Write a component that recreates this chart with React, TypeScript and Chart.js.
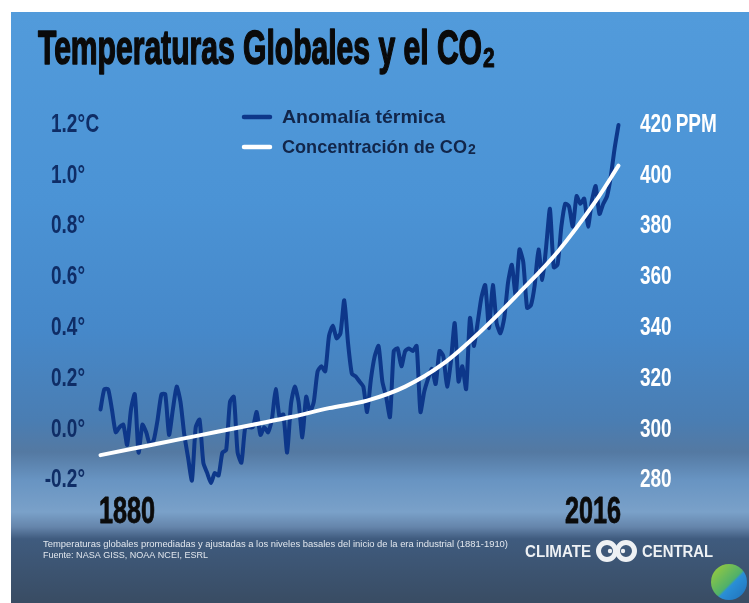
import React, { useEffect, useRef } from 'react';
import { Chart, registerables } from 'chart.js';

Chart.register(...registerables);

// ---- Data ----
const START_YEAR = 1880;
const END_YEAR = 2016;
const tempAnomaly = [
  0.07, 0.15, 0.15, 0.07, -0.02, 0.0, 0.01, -0.07, 0.07, 0.13,
  -0.1, 0.01, -0.02, -0.07, -0.05, 0.03, 0.13, 0.13, -0.03, 0.07,
  0.16, 0.1, -0.03, -0.12, -0.21, 0.0, 0.03, -0.14, -0.18, -0.22,
  -0.18, -0.19, -0.1, -0.09, 0.1, 0.12, -0.1, -0.14, 0.0, 0.0,
  0.0, 0.06, -0.03, 0.0, -0.02, 0.03, 0.15, 0.04, 0.05, -0.1,
  0.09, 0.16, 0.1, -0.04, 0.12, 0.06, 0.1, 0.22, 0.24, 0.22,
  0.36, 0.4, 0.35, 0.37, 0.5, 0.33, 0.21, 0.2, 0.18, 0.16,
  0.06, 0.19, 0.28, 0.32, 0.18, 0.12, 0.04, 0.3, 0.31, 0.24,
  0.3, 0.31, 0.3, 0.32, 0.06, 0.14, 0.19, 0.23, 0.17, 0.3,
  0.28, 0.16, 0.26, 0.41, 0.18, 0.24, 0.15, 0.43, 0.32, 0.41,
  0.51, 0.56, 0.39, 0.56, 0.41, 0.37, 0.43, 0.57, 0.64, 0.52,
  0.7, 0.65, 0.47, 0.48, 0.56, 0.7, 0.58, 0.71, 0.86, 0.63,
  0.64, 0.79, 0.88, 0.87, 0.79, 0.91, 0.88, 0.9, 0.79, 0.89,
  0.95, 0.84, 0.88, 0.91, 0.99, 1.1, 1.19,
];
const co2Years = [1880, 1890, 1900, 1910, 1920, 1930, 1940, 1950, 1960, 1970, 1980, 1990, 2000, 2010, 2016];
const co2Ppm = [289, 292, 295, 298, 301, 304, 307.5, 310.5, 316, 325, 338, 353, 369, 389, 403];

const tempTicks = [-0.2, 0.0, 0.2, 0.4, 0.6, 0.8, 1.0, 1.2];
const tempTickLabels = ['-0.2°', '0.0°', '0.2°', '0.4°', '0.6°', '0.8°', '1.0°', '1.2°'];
const tempUnit = 'C';
const co2Ticks = [280, 300, 320, 340, 360, 380, 400, 420];
const co2TickLabels = ['280', '300', '320', '340', '360', '380', '400', '420'];
const co2Unit = 'PPM';
const yearLabels = ['1880', '2016'];

const titleMain = 'Temperaturas Globales y el CO';
const titleSub = '2';
const legendTemp = 'Anomalía térmica';
const legendCo2 = 'Concentración de CO';
const footnote1 = 'Temperaturas globales promediadas y ajustadas a los niveles basales del inicio de la era industrial (1881-1910)';
const footnote2 = 'Fuente: NASA GISS, NOAA NCEI, ESRL';
const brandLeft = 'CLIMATE';
const brandRight = 'CENTRAL';

// ---- Styles ----
const W = 738;
const H = 591;
const FONT = '"Liberation Sans", Arial, sans-serif';
const TEMP_COLOR = '#0d378a';
const CO2_COLOR = '#ffffff';

function drawScaled(
  ctx: CanvasRenderingContext2D,
  text: string,
  x: number,
  y: number,
  font: string,
  color: string,
  opts: { sx?: number; width?: number; align?: 'left' | 'right' | 'center'; stroke?: number } = {}
) {
  ctx.save();
  ctx.font = font;
  ctx.fillStyle = color;
  ctx.textBaseline = 'alphabetic';
  ctx.textAlign = 'left';
  const raw = ctx.measureText(text).width;
  const sx = opts.width ? opts.width / raw : opts.sx ?? 1;
  const w = raw * sx;
  const align = opts.align ?? 'left';
  const left = align === 'left' ? x : align === 'right' ? x - w : x - w / 2;
  ctx.translate(left, y);
  ctx.scale(sx, 1);
  ctx.fillText(text, 0, 0);
  if (opts.stroke) {
    ctx.strokeStyle = color;
    ctx.lineWidth = opts.stroke;
    ctx.lineJoin = 'round';
    ctx.strokeText(text, 0, 0);
  }
  ctx.restore();
  return w;
}

const decorPlugin = {
  id: 'decor',
  beforeDraw(chart: any) {
    const ctx: CanvasRenderingContext2D = chart.ctx;
    const g = ctx.createLinearGradient(0, 0, 0, H);
    const stops: [number, string][] = [
      [0, '#529bdb'],
      [190, '#4b93d5'],
      [320, '#4688c9'],
      [410, '#4a7db2'],
      [440, '#5479a2'],
      [468, '#6894c2'],
      [500, '#7aa1c9'],
      [515, '#6585ab'],
      [527, '#3f5b7e'],
      [591, '#394c63'],
    ];
    stops.forEach(([p, c]) => g.addColorStop(p / H, c));
    ctx.save();
    ctx.fillStyle = g;
    ctx.fillRect(0, 0, W, H);
    ctx.restore();
  },
  afterDraw(chart: any) {
    const ctx: CanvasRenderingContext2D = chart.ctx;
    const xs = chart.scales.x;
    const yl = chart.scales.y;
    const yr = chart.scales.y2;

    // Title
    const tw = drawScaled(ctx, titleMain, 27, 51.5, `bold 48px ${FONT}`, '#0a0a0a', { width: 444, stroke: 1.6 });
    drawScaled(ctx, titleSub, 27 + tw + 1, 55, `bold 28px ${FONT}`, '#0a0a0a', { sx: 0.75, stroke: 1 });

    // Left ticks
    const tickFont = `bold 26px ${FONT}`;
    const capH = 26 * 0.716;
    tempTicks.forEach((v, i) => {
      const py = yl.getPixelForValue(v) + capH / 2;
      drawScaled(ctx, tempTickLabels[i], 74, py, tickFont, '#0f2d66', { sx: 0.73, align: 'right' });
      if (i === tempTicks.length - 1) {
        drawScaled(ctx, tempUnit, 74.5, py, tickFont, '#0f2d66', { sx: 0.73 });
      }
    });
    // Right ticks
    co2Ticks.forEach((v, i) => {
      const py = yr.getPixelForValue(v) + capH / 2;
      const w = drawScaled(ctx, co2TickLabels[i], 629, py, tickFont, '#ffffff', { sx: 0.73 });
      if (i === co2Ticks.length - 1) {
        drawScaled(ctx, co2Unit, 629 + w + 4, py, tickFont, '#ffffff', { sx: 0.73 });
      }
    });

    // Year labels
    const yearFont = `bold 36px ${FONT}`;
    drawScaled(ctx, yearLabels[0], xs.getPixelForValue(START_YEAR) - 1.5, 511, yearFont, '#0b0b0b', { sx: 0.7, stroke: 0.8 });
    drawScaled(ctx, yearLabels[1], xs.getPixelForValue(END_YEAR) + 2.5, 511, yearFont, '#0b0b0b', { sx: 0.7, align: 'right', stroke: 0.8 });

    // Legend
    ctx.save();
    ctx.lineCap = 'round';
    ctx.lineWidth = 4.5;
    ctx.strokeStyle = TEMP_COLOR;
    ctx.beginPath();
    ctx.moveTo(233, 105);
    ctx.lineTo(259, 105);
    ctx.stroke();
    ctx.strokeStyle = CO2_COLOR;
    ctx.beginPath();
    ctx.moveTo(233, 135);
    ctx.lineTo(259, 135);
    ctx.stroke();
    ctx.restore();
    const legFont = `bold 19px ${FONT}`;
    drawScaled(ctx, legendTemp, 271, 111, legFont, '#12264a', { width: 163 });
    const lw = drawScaled(ctx, legendCo2, 271, 141, legFont, '#12264a', { width: 185 });
    drawScaled(ctx, '2', 271 + lw + 1, 142, `bold 14px ${FONT}`, '#12264a');

    // Footnote
    drawScaled(ctx, footnote1, 32, 534.5, `9.5px ${FONT}`, '#e2e7ee', { width: 465 });
    drawScaled(ctx, footnote2, 32, 545.5, `9.5px ${FONT}`, '#e2e7ee', { width: 165 });

    // Climate Central brand
    const brandFont = `bold 16px ${FONT}`;
    drawScaled(ctx, brandLeft, 514, 545, brandFont, '#eef1f4', { width: 66 });
    drawScaled(ctx, brandRight, 631, 545, brandFont, '#eef1f4', { width: 71 });
    ctx.save();
    ctx.strokeStyle = '#eef1f4';
    ctx.lineWidth = 5;
    [596, 615].forEach((cx) => {
      ctx.beginPath();
      ctx.arc(cx, 539, 8.5, 0, Math.PI * 2);
      ctx.stroke();
    });
    ctx.fillStyle = '#eef1f4';
    [599, 605.5, 612].forEach((cx) => {
      ctx.beginPath();
      ctx.arc(cx, 539, 2.2, 0, Math.PI * 2);
      ctx.fill();
    });
    ctx.restore();

    // corner logo
    ctx.save();
    const lg = ctx.createLinearGradient(700, 555, 735, 590);
    lg.addColorStop(0, '#9ccc3c');
    lg.addColorStop(0.5, '#4fb06a');
    lg.addColorStop(0.55, '#2a8fd6');
    lg.addColorStop(1, '#1f6fb8');
    ctx.fillStyle = lg;
    ctx.beginPath();
    ctx.arc(718, 570, 18, 0, Math.PI * 2);
    ctx.fill();
    ctx.restore();
  },
};

export default function App() {
  const ref = useRef<HTMLCanvasElement>(null);
  useEffect(() => {
    document.body.style.margin = '0';
    document.body.style.overflow = 'hidden';
    const chart = new Chart(ref.current as HTMLCanvasElement, {
      type: 'line',
      data: {
        datasets: [
          {
            label: legendCo2 + '2',
            data: co2Years.map((x, i) => ({ x, y: co2Ppm[i] })),
            yAxisID: 'y2',
            borderColor: CO2_COLOR,
            borderWidth: 4,
            pointRadius: 0,
            cubicInterpolationMode: 'monotone',
            borderCapStyle: 'round',
            clip: false,
            order: 0,
          },
          {
            label: legendTemp,
            data: tempAnomaly.map((y, i) => ({ x: START_YEAR + i, y })),
            yAxisID: 'y',
            borderColor: TEMP_COLOR,
            borderWidth: 4,
            pointRadius: 0,
            tension: 0.2,
            borderJoinStyle: 'round',
            borderCapStyle: 'round',
            clip: false,
            order: 1,
          },
        ] as any,
      },
      options: {
        responsive: false,
        animation: false,
        devicePixelRatio: 1,
        events: [],
        layout: { padding: { left: 89.5, right: 130.5, top: 110.5, bottom: 125 } },
        plugins: { legend: { display: false }, tooltip: { enabled: false }, title: { display: false } },
        scales: {
          x: { type: 'linear', min: START_YEAR, max: END_YEAR, display: false },
          y: { type: 'linear', position: 'left', min: -0.2, max: 1.2, display: false },
          y2: { type: 'linear', position: 'right', min: 280, max: 420, display: false },
        },
      },
      plugins: [decorPlugin],
    } as any);
    return () => chart.destroy();
  }, []);
  return (
    <div style={{ position: 'relative', width: 749, height: 603, background: '#ffffff' }}>
      <canvas
        ref={ref}
        width={W}
        height={H}
        style={{ position: 'absolute', left: 11, top: 12, width: W, height: H }}
      />
    </div>
  );
}
